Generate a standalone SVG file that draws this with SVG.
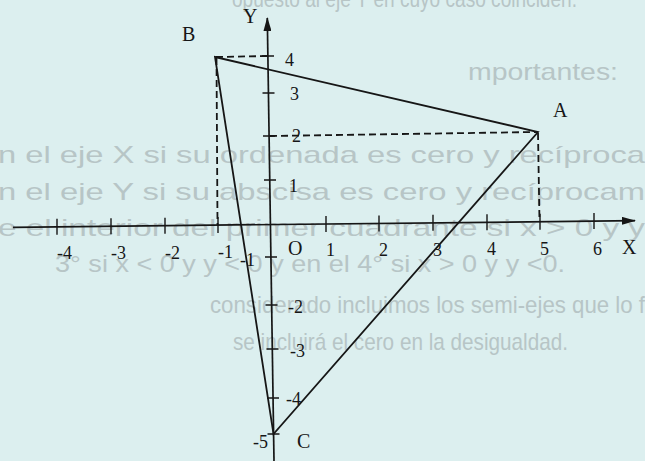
<svg xmlns="http://www.w3.org/2000/svg" width="645" height="461" viewBox="0 0 645 461">
<defs>
<marker id="arr" viewBox="0 0 14 8" refX="13" refY="4" markerWidth="14" markerHeight="8" markerUnits="userSpaceOnUse" orient="auto">
<path d="M0,0 L14,4 L0,8 z" fill="#161616"/>
</marker>
<style>
.bg{font-family:"Liberation Sans",Arial,sans-serif;font-size:24px;fill:#b7c5c6}
.ax{stroke:#161616;stroke-width:1.7;fill:none}
.tk{stroke:#161616;stroke-width:1.4;fill:none}
.tri{stroke:#161616;stroke-width:1.8;fill:none;stroke-linejoin:miter}
.dash{stroke:#161616;stroke-width:1.8;fill:none;stroke-dasharray:7 4}
.lb{font-family:"Liberation Serif","Times New Roman",serif;font-size:18px;fill:#161616}
.lt{font-family:"Liberation Serif","Times New Roman",serif;font-size:20px;fill:#161616}
</style>
</defs>
<rect width="645" height="461" fill="#dcefef"/>
<g id="bleed-through">
<text class="bg" x="232" y="7" textLength="345" lengthAdjust="spacingAndGlyphs">opuesto al eje Y en cuyo caso coinciden.</text>
<text class="bg" x="468" y="80" textLength="150" lengthAdjust="spacingAndGlyphs">mportantes:</text>
<text class="bg" x="-2" y="163" textLength="647" lengthAdjust="spacingAndGlyphs">n el eje X si su ordenada es cero y recíproca</text>
<text class="bg" x="-2" y="200" textLength="647" lengthAdjust="spacingAndGlyphs">n el eje Y si su abscisa es cero y recíprocam</text>
<text class="bg" x="-2" y="236" textLength="647" lengthAdjust="spacingAndGlyphs">e el interior del primer cuadrante si x &gt; 0 y y</text>
<text class="bg" x="55" y="272" textLength="510" lengthAdjust="spacingAndGlyphs">3° si x &lt; 0 y y &lt; 0 y en el 4° si x &gt; 0 y y &lt;0.</text>
<text class="bg" x="210" y="313" textLength="435" lengthAdjust="spacingAndGlyphs">considerado incluimos los semi-ejes que lo f</text>
<text class="bg" x="233" y="350" textLength="335" lengthAdjust="spacingAndGlyphs">se incluirá el cero en la desigualdad.</text>
</g>
<g id="connectors">
<line class="dash" x1="216" y1="57" x2="268" y2="56"/>
<line class="dash" x1="216.5" y1="58" x2="217.5" y2="225"/>
<line class="dash" x1="270" y1="136" x2="537" y2="132"/>
<line class="dash" x1="538" y1="133" x2="539.5" y2="222"/>
</g>
<g id="x-axis">
<line class="ax" x1="13" y1="227.3" x2="635" y2="220.7" marker-end="url(#arr)"/>
<path class="tk" d="M57,218.8V234.8 M111,218.3V234.3 M165,217.7V233.7 M218,217.1V233.1 M326,216V232 M379,215.4V231.4 M433,214.8V230.8 M487,214.3V230.3 M540,213.7V229.7 M594,213.1V229.1"/>
<text class="lb" x="57" y="259">-4</text>
<text class="lb" x="111" y="259">-3</text>
<text class="lb" x="165" y="258.5">-2</text>
<text class="lb" x="218" y="258">-1</text>
<text class="lt" x="288" y="255">O</text>
<text class="lb" x="326" y="256">1</text>
<text class="lb" x="379" y="256">2</text>
<text class="lb" x="433" y="255.5">3</text>
<text class="lb" x="487" y="255">4</text>
<text class="lb" x="540" y="255">5</text>
<text class="lb" x="593" y="254.5">6</text>
<text class="lt" x="622" y="254">X</text>
</g>
<g id="y-axis">
<line class="ax" x1="274" y1="461" x2="267.3" y2="18" marker-end="url(#arr)"/>
<path class="tk" d="M262,56H274 M262.5,93H274.5 M263,136H275 M264,180H276 M265,257H277 M265.5,305H277.5 M266.5,349H278.5 M267,398H279 M267.5,434H279.5"/>
<text class="lt" x="243" y="23">Y</text>
<text class="lb" x="285" y="66">4</text>
<text class="lb" x="290" y="100">3</text>
<text class="lb" x="292" y="142">2</text>
<text class="lb" x="289" y="192">1</text>
<text class="lb" x="240" y="266">-1</text>
<text class="lb" x="288" y="313">-2</text>
<text class="lb" x="290" y="357">-3</text>
<text class="lb" x="286" y="405">-4</text>
<text class="lb" x="253" y="448">-5</text>
</g>
<g id="triangle">
<polygon class="tri" points="215,57 538,132 273.5,434"/>
</g>
<g id="node-A"><text class="lt" x="553" y="117">A</text></g>
<g id="node-B"><text class="lt" x="182" y="41">B</text></g>
<g id="node-C"><text class="lt" x="297" y="448">C</text></g>
</svg>
